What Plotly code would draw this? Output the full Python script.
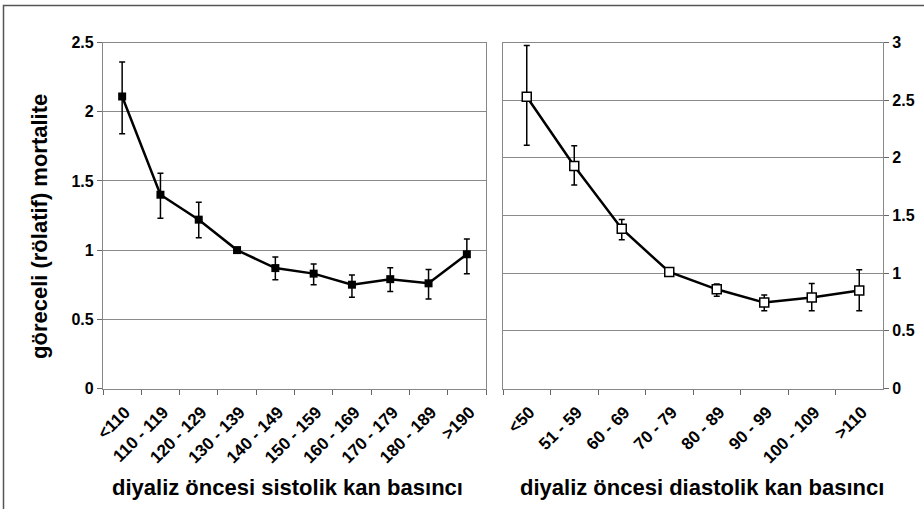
import plotly.graph_objects as go

# ---- data ----
sys_categories = ["<110", "110 - 119", "120 - 129", "130 - 139", "140 - 149",
                  "150 - 159", "160 - 169", "170 - 179", "180 - 189", ">190"]
sys_values = [2.11, 1.40, 1.22, 1.00, 0.87, 0.83, 0.75, 0.79, 0.76, 0.97]
sys_upper = [2.36, 1.555, 1.345, 1.00, 0.95, 0.90, 0.82, 0.873, 0.86, 1.08]
sys_lower = [1.84, 1.23, 1.09, 1.00, 0.786, 0.75, 0.66, 0.70, 0.646, 0.83]

dia_categories = ["<50", "51 - 59", "60 - 69", "70 - 79", "80 - 89",
                  "90 - 99", "100 - 109", ">110"]
dia_values = [2.53, 1.93, 1.385, 1.01, 0.86, 0.745, 0.79, 0.85]
dia_upper = [2.975, 2.105, 1.465, 1.01, 0.905, 0.81, 0.91, 1.03]
dia_lower = [2.11, 1.765, 1.29, 1.01, 0.80, 0.675, 0.675, 0.675]

left_yticks = [0, 0.5, 1, 1.5, 2, 2.5]
left_ytick_labels = ["0", "0.5", "1", "1.5", "2", "2.5"]
right_yticks = [0, 0.5, 1, 1.5, 2, 2.5, 3]
right_ytick_labels = ["0", "0.5", "1", "1.5", "2", "2.5", "3"]

y_title = "göreceli (rölatif) mortalite"
x_title_left = "diyaliz öncesi sistolik kan basıncı"
x_title_right = "diyaliz öncesi diastolik kan basıncı"

FONT = "Liberation Sans, Arial, sans-serif"

fig = go.Figure()

fig.add_trace(go.Scatter(
    x=sys_categories, y=sys_values, mode="lines+markers",
    line=dict(color="black", width=2.5),
    marker=dict(symbol="square", size=8, color="black"),
    error_y=dict(type="data", symmetric=False,
                 array=[u - v for u, v in zip(sys_upper, sys_values)],
                 arrayminus=[v - l for v, l in zip(sys_values, sys_lower)],
                 color="black", thickness=1.5, width=3),
    xaxis="x", yaxis="y", showlegend=False, cliponaxis=False))

fig.add_trace(go.Scatter(
    x=dia_categories, y=dia_values, mode="lines+markers",
    line=dict(color="black", width=2.5),
    marker=dict(symbol="square", size=9, color="white",
                line=dict(color="black", width=1.5)),
    error_y=dict(type="data", symmetric=False,
                 array=[u - v for u, v in zip(dia_upper, dia_values)],
                 arrayminus=[v - l for v, l in zip(dia_values, dia_lower)],
                 color="black", thickness=1.5, width=3),
    xaxis="x2", yaxis="y2", showlegend=False, cliponaxis=False))

W, H = 924, 509
ydom = [1 - 388.5 / H, 1 - 42.5 / H]

common = dict(automargin=False, ticks="outside", ticklen=5, tickcolor="#666",
              showline=True, linecolor="#888",
              linewidth=1.2, mirror=True, zeroline=False)
xtickfont = dict(family=FONT, size=17, color="black")
ytickfont = dict(family=FONT, size=16, color="black")

fig.update_layout(
    template="none",
    width=W, height=H, autosize=False,
    margin=dict(l=0, r=0, t=0, b=0, pad=0, autoexpand=False),
    paper_bgcolor="white", plot_bgcolor="white",
    font=dict(family=FONT, color="black"),
    xaxis=dict(domain=[103 / W, 486 / W], type="category",
               categoryorder="array", categoryarray=sys_categories,
               range=[-0.5, len(sys_categories) - 0.5],
               tickvals=sys_categories,
               ticktext=[f"<b>{c}</b>" for c in sys_categories],
               tickson="boundaries", tickangle=-45, tickfont=xtickfont,
               ticklabelstandoff=6, ticklabelshift=3,
               showgrid=False, anchor="y", **common),
    yaxis=dict(domain=ydom, range=[0, 2.5], tickvals=left_yticks,
               ticktext=[f"<b>{t}</b>" for t in left_ytick_labels],
               tickfont=ytickfont,
               showgrid=True, gridcolor="#8a8a8a", gridwidth=1.2,
               anchor="x", **common),
    xaxis2=dict(domain=[503 / W, 883 / W], type="category",
                categoryorder="array", categoryarray=dia_categories,
                range=[-0.5, len(dia_categories) - 0.5],
                tickvals=dia_categories,
                ticktext=[f"<b>{c}</b>" for c in dia_categories],
                tickson="boundaries", tickangle=-45, tickfont=xtickfont,
                ticklabelstandoff=6, ticklabelshift=3,
                showgrid=False, anchor="y2", **common),
    yaxis2=dict(domain=ydom, range=[0, 3], tickvals=right_yticks,
                ticktext=[f"<b>{t}</b>" for t in right_ytick_labels],
                side="right", tickfont=ytickfont,
                showgrid=True, gridcolor="#8a8a8a", gridwidth=1.2,
                anchor="x2", **common),
    annotations=[
        dict(text=f"<b>{y_title}</b>", xref="paper", yref="paper",
             x=39 / W, y=1 - 227 / H, textangle=-90, showarrow=False,
             font=dict(family=FONT, size=22, color="black"),
             xanchor="center", yanchor="middle"),
        dict(text=f"<b>{x_title_left}</b>", xref="paper", yref="paper",
             x=287 / W, y=1 - 487 / H, showarrow=False,
             font=dict(family=FONT, size=22, color="black"),
             xanchor="center", yanchor="middle"),
        dict(text=f"<b>{x_title_right}</b>", xref="paper", yref="paper",
             x=702 / W, y=1 - 487 / H, showarrow=False,
             font=dict(family=FONT, size=22, color="black"),
             xanchor="center", yanchor="middle"),
    ],
    shapes=[
        dict(type="path", xref="paper", yref="paper",
             path=f"M {3.5/W} 0 L {3.5/W} {1-5.5/H} L 1 {1-5.5/H}",
             line=dict(color="#555", width=1.5)),
    ],
)

fig.write_html(
    "out.html",
    config={"displayModeBar": False},
    post_script=(
        "document.documentElement.style.overflow='hidden';"
        "document.body.style.margin='0';"
        "document.body.style.padding='0';"
        "document.body.style.overflow='hidden';"
    ),
)
